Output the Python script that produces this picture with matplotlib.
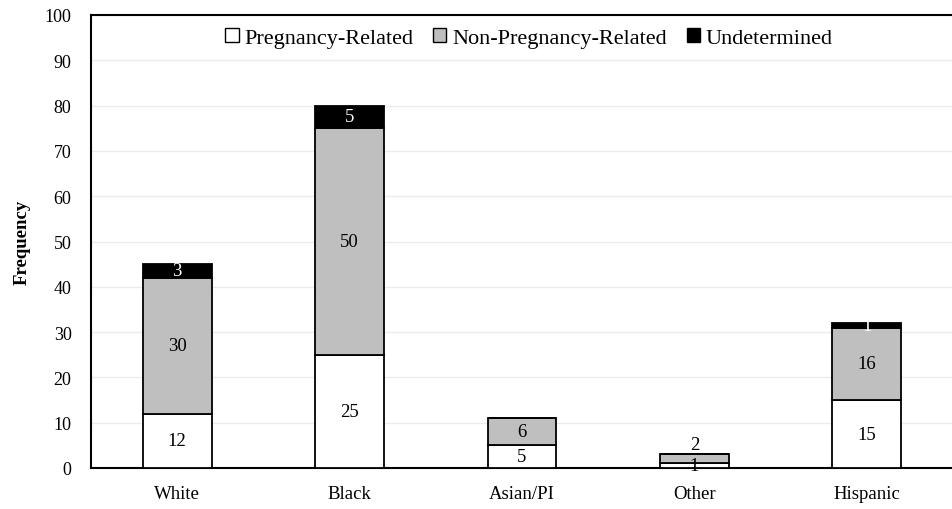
import numpy as np
import matplotlib
matplotlib.use("Agg")
from matplotlib import pyplot as plt
from matplotlib.patches import Patch

plt.rcParams['font.family'] = ['Liberation Serif', 'DejaVu Serif']

categories = ['White', 'Black', 'Asian/PI', 'Other', 'Hispanic']
pregnancy_related = [12, 25, 5, 1, 15]
non_pregnancy_related = [30, 50, 6, 2, 16]
undetermined = [3, 5, 0, 0, 1]

fig = plt.figure(figsize=(9.53, 5.10), dpi=100)
ax = fig.add_axes([91 / 953, 1 - 469 / 510, 862 / 953, 453 / 510])

x = np.arange(len(categories))
w = 0.4
pr = np.array(pregnancy_related)
npr = np.array(non_pregnancy_related)
und = np.array(undetermined)

series = [
    ('Pregnancy-Related', pr, np.zeros(len(x)), 'white', 'black'),
    ('Non-Pregnancy-Related', npr, pr, '#bfbfbf', 'black'),
    ('Undetermined', und, pr + npr, 'black', 'white'),
]
for i, (name, vals, bottom, color, tcolor) in enumerate(series):
    ax.bar(x, vals, w, bottom=bottom, color=color, edgecolor='black',
           linewidth=1.3, zorder=3)
    for xi, v, b in zip(x, vals, bottom):
        if v <= 0:
            continue
        # small grey segment: label sits just above the bar
        if i == 1 and v < 3:
            ax.text(xi, b + v + 0.3, str(v), ha='center', va='bottom',
                    fontsize=13.5, color=tcolor, zorder=4)
        else:
            ax.text(xi, b + v / 2, str(v), ha='center', va='center',
                    fontsize=13.5, color=tcolor, zorder=4)

ax.set_xlim(-0.5, len(categories) - 0.5)
ax.set_ylim(0, 100)
ax.set_yticks(np.arange(0, 101, 10))
ax.set_xticks(x)
ax.set_xticklabels(categories)
ax.tick_params(axis='both', length=0, labelsize=13)
ax.tick_params(axis='x', pad=12, labelsize=13.5)
ax.tick_params(axis='y', pad=14)
ax.grid(axis='y', color='#ececec', linewidth=1, zorder=0)
ax.spines['right'].set_visible(False)
for s in ['left', 'top', 'bottom']:
    ax.spines[s].set_linewidth(1.5)
ax.set_ylabel('Frequency', fontweight='bold', fontsize=13.5, labelpad=10)

handles = [Patch(facecolor=c, edgecolor='black', linewidth=1) for _, _, _, c, _ in series]
ax.legend(handles, [s[0] for s in series], loc='upper center', ncol=3,
          frameon=False, fontsize=16, handlelength=0.6, handleheight=0.6,
          handletextpad=0.25, columnspacing=0.9, bbox_to_anchor=(0.508, 1.015))

fig.savefig('out.png', dpi=100)
